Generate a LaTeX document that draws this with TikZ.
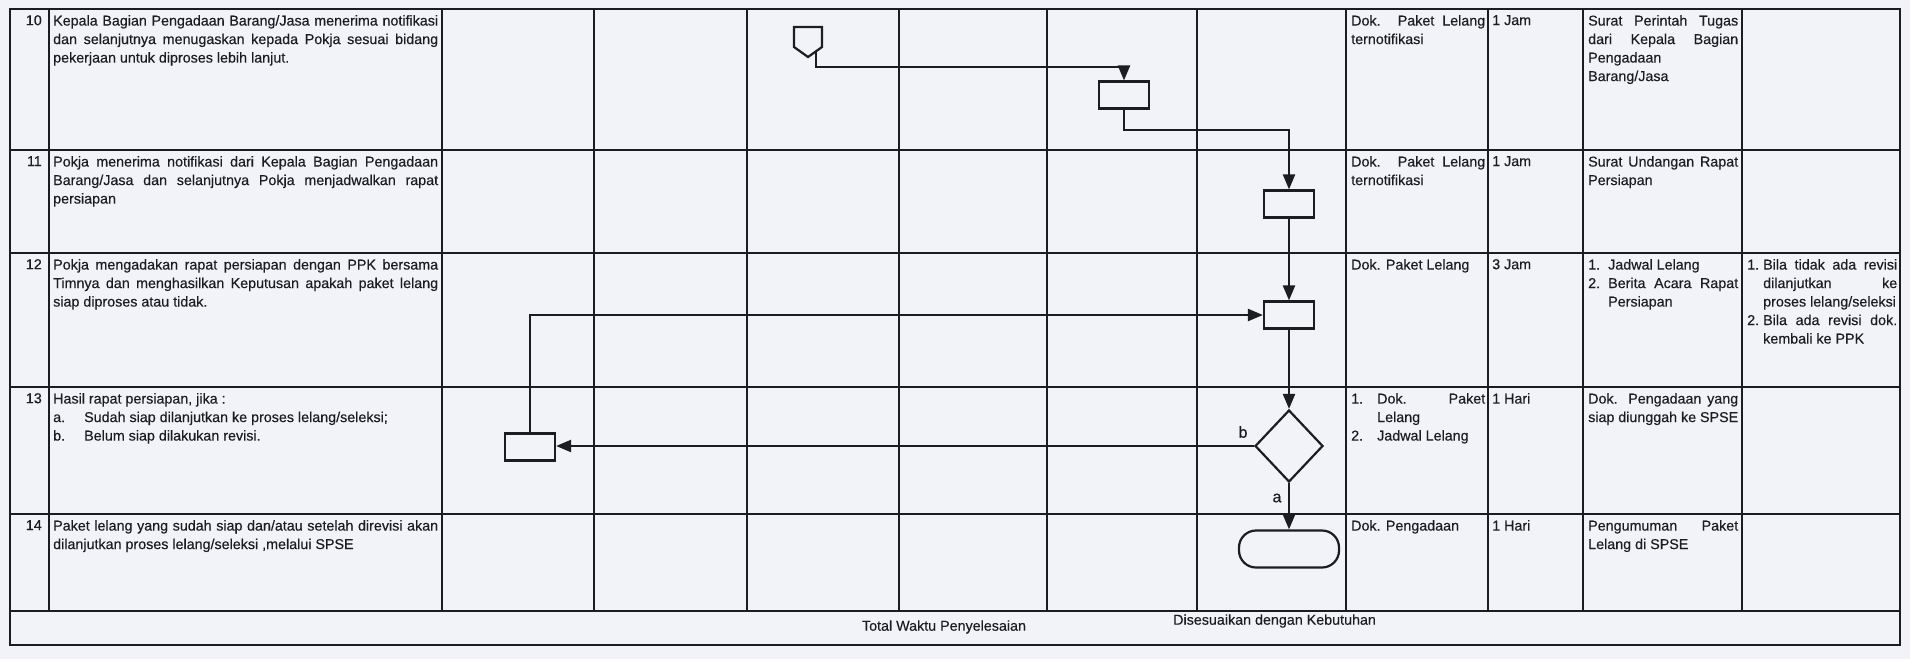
\documentclass[tikz,border=0pt]{standalone}
\usepackage{fontspec}
\setmainfont{Liberation Sans}
\newfontfamily\scanfont{Liberation Sans}[FakeBold=0.3]
\usetikzlibrary{arrows.meta,shapes.geometric}
\definecolor{bg}{RGB}{241,243,248}
\definecolor{ink}{RGB}{28,28,34}
\newcommand\tabfont{\scanfont\fontsize{14.3}{18.5}\selectfont\tolerance=10000\hbadness=10000\hyphenpenalty=10000\exhyphenpenalty=10000}
\newcommand\itm[3]{\hangindent=#1\hangafter=1\makebox[#1][l]{#2}#3\par}
\tikzset{
  grid/.style={draw=ink, line width=1.4pt},
  proc/.style={draw=ink, line width=2.2pt, minimum width=50pt, minimum height=27pt, inner sep=0pt},
  dec/.style={draw=ink, line width=2.2pt, diamond, minimum width=68pt, minimum height=72pt, inner sep=0pt},
  term/.style={draw=ink, line width=2.2pt, rounded corners=17pt, minimum width=100pt, minimum height=37pt, inner sep=0pt},
  flow/.style={draw=ink, line width=2.3pt, -{Triangle[length=15pt,width=12pt]}},
  txt/.style={anchor=north west, inner sep=0pt, align=justify, font=\tabfont, text=ink},
  plain/.style={anchor=north west, inner sep=0pt, font=\tabfont, text=ink},
  num/.style={anchor=north east, inner sep=0pt, font=\tabfont, text=ink},
  lbl/.style={inner sep=0pt, font=\scanfont\fontsize{16}{18}\selectfont, text=ink},
}
\begin{document}
\begin{tikzpicture}[x=1pt,y=-1pt]
\useasboundingbox (0,0) rectangle (1910,659);
\fill[bg] (0,0) rectangle (1910,659);
% ---------- table grid ----------
\draw[grid] (10,9) rectangle (1900,645);
\foreach \r in {150,253,387,514,611}{\draw[grid] (10,\r) -- (1900,\r);}
\foreach \c in {49,442,594,747,899,1047,1197,1346,1488,1583,1742}{\draw[grid] (\c,9) -- (\c,611);}
% ---------- row 10 ----------
\node[num] (n10) at (42,15) {10};
\node[txt, text width=385pt] (d10) at (53,15) {Kepala Bagian Pengadaan Barang/Jasa menerima notifikasi dan selanjutnya menugaskan kepada Pokja sesuai bidang pekerjaan untuk diproses lebih lanjut.};
\node[txt, text width=134pt] (k10) at (1351,15) {Dok. Paket Lelang ternotifikasi};
\node[plain] (j10) at (1492,15) {1 Jam};
\node[txt, text width=150pt] (o10) at (1588,15) {Surat Perintah Tugas dari Kepala Bagian Pengadaan Barang/Jasa};
% ---------- row 11 ----------
\node[num] (n11) at (42,156) {11};
\node[txt, text width=385pt] (d11) at (53,156) {Pokja menerima notifikasi dari Kepala Bagian Pengadaan Barang/Jasa dan selanjutnya Pokja menjadwalkan rapat persiapan};
\node[txt, text width=134pt] (k11) at (1351,156) {Dok. Paket Lelang ternotifikasi};
\node[plain] (j11) at (1492,156) {1 Jam};
\node[txt, text width=150pt] (o11) at (1588,156) {Surat Undangan Rapat Persiapan};
% ---------- row 12 ----------
\node[num] (n12) at (42,259) {12};
\node[txt, text width=385pt] (d12) at (53,259) {Pokja mengadakan rapat persiapan dengan PPK bersama Timnya dan menghasilkan Keputusan apakah paket lelang siap diproses atau tidak.};
\node[txt, text width=134pt] (k12) at (1351,259) {Dok. Paket Lelang};
\node[plain] (j12) at (1492,259) {3 Jam};
\node[txt, text width=150pt] (o12) at (1588,259) {\itm{20pt}{1.}{Jadwal Lelang}\itm{20pt}{2.}{Berita Acara Rapat Persiapan}};
\node[txt, text width=150pt] (r12) at (1747,259) {\itm{16pt}{1.}{Bila tidak ada revisi dilanjutkan ke\linebreak proses lelang/seleksi}\itm{16pt}{2.}{Bila ada revisi dok.\linebreak kembali ke PPK}};
% ---------- row 13 ----------
\node[num] (n13) at (42,393) {13};
\node[txt, text width=385pt] (d13) at (53,393) {Hasil rapat persiapan, jika :\par\itm{31pt}{a.}{Sudah siap dilanjutkan ke proses lelang/seleksi;}\itm{31pt}{b.}{Belum siap dilakukan revisi.}};
\node[txt, text width=134pt] (k13) at (1351,393) {\itm{26pt}{1.}{Dok. Paket\linebreak Lelang}\itm{26pt}{2.}{Jadwal Lelang}};
\node[plain] (j13) at (1492,393) {1 Hari};
\node[txt, text width=150pt] (o13) at (1588,393) {Dok. Pengadaan yang siap diunggah ke SPSE};
% ---------- row 14 ----------
\node[num] (n14) at (42,520) {14};
\node[txt, text width=385pt] (d14) at (53,520) {Paket lelang yang sudah siap dan/atau setelah direvisi akan dilanjutkan proses lelang/seleksi ,melalui SPSE};
\node[plain] (k14) at (1351,520) {Dok. Pengadaan};
\node[plain] (j14) at (1492,520) {1 Hari};
\node[txt, text width=150pt] (o14) at (1588,520) {Pengumuman Paket Lelang di SPSE};
% ---------- footer ----------
\node[plain, anchor=center] (tw) at (944,627) {Total Waktu Penyelesaian};
\node[plain, anchor=west] (ds) at (1173,621) {Disesuaikan dengan Kebutuhan};
% ---------- flowchart ----------
\coordinate (conntip) at (808,57);
\draw[draw=ink, line width=2.2pt, line join=miter] (794,27) -- (822,27) -- (822,47) -- (conntip) -- (794,47) -- cycle;
\coordinate (conn) at (816,51.5);
\node[proc] (b1) at (1124,95) {};
\node[proc] (b2) at (1289,204) {};
\node[proc] (b3) at (1289,315) {};
\node[dec]  (d)  at (1289,446) {};
\node[term] (t)  at (1289,549) {};
\node[proc] (b4) at (530,447) {};
\coordinate (h1) at (816,67);
\coordinate (h2) at (1124,130);
\draw[flow] (conn) -- (h1) -| (b1.north);
\draw[flow] (b1.south) -- (h2) -| (b2.north);
\draw[flow] (b2.south) -- (b3.north);
\draw[flow] (b3.south) -- (d.north);
\draw[flow] (d.south) -- (t.north);
\draw[flow] (d.west) -- (b4.east |- d.west);
\draw[flow] (b4.north) |- (b3.west);
\node[lbl] (lb) at (1243,432) {b};
\node[lbl] (la) at (1277,498) {a};
\end{tikzpicture}
\end{document}
